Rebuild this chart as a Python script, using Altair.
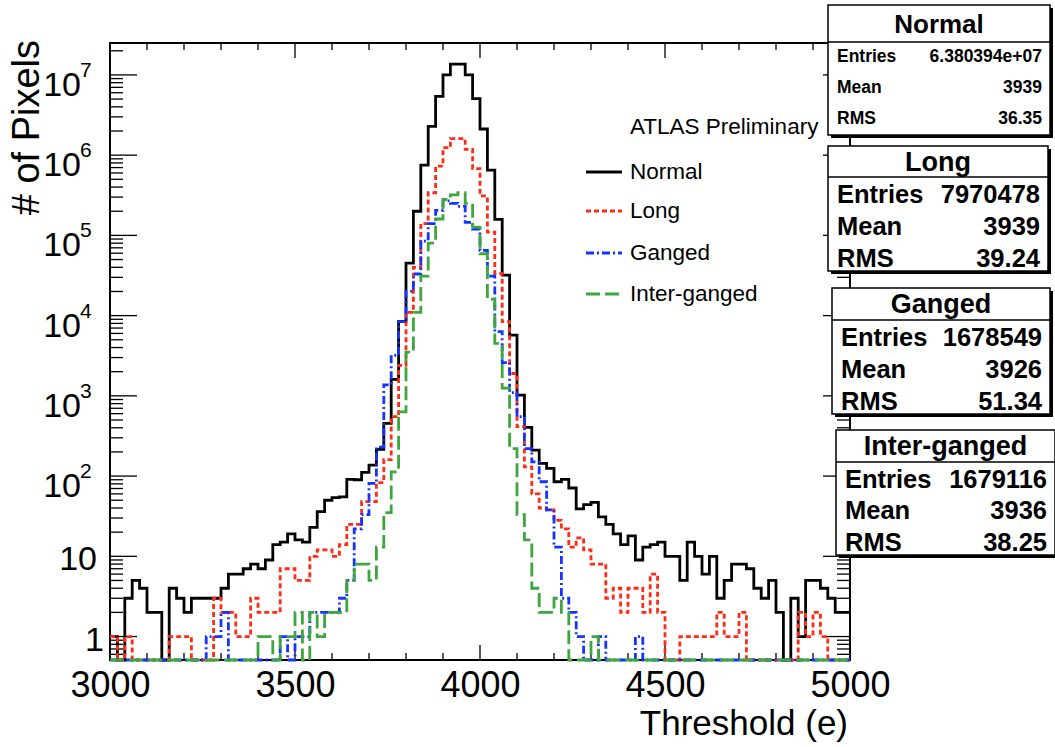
import altair as alt
import pandas as pd

# ---------------- data ----------------
x_min, x_max, bin_w = 3000, 5000, 20

normal = [1, 0, 3, 5, 4, 2, 2, 0, 4, 3,
          2, 3, 3, 3, 3, 4, 6, 6, 7, 8,
          7, 9, 14, 15, 19, 16, 15, 23, 36, 50,
          54, 55, 91, 90, 111, 137, 215, 454, 1600, 8500,
          45000, 200000, 750000, 2290000, 5400000, 10000000, 13600000, 13600000, 10000000, 5070000,
          2120000, 650000, 158000, 32000, 5700, 1020, 405, 211, 144, 125,
          85, 91, 71, 39, 44, 47, 31, 25, 19, 14,
          18, 9, 13, 14, 15, 10, 10, 5, 15, 10,
          6, 10, 3, 5, 8, 8, 7, 4, 3, 5,
          2, 0, 3, 1, 5, 5, 4, 3, 2, 2]

long_ = [1, 0, 1, 0, 0, 0, 0, 0, 1, 1,
         1, 0, 0, 0, 3, 2, 2, 1, 1, 3,
         2, 2, 2, 7, 7, 5, 5, 10, 12, 12,
         10, 14, 25, 25, 48, 48, 83, 160, 550, 2400,
         11000, 40000, 140000, 340000, 730000, 1240000, 1610000, 1610000, 1180000, 680000,
         310000, 110000, 33500, 8400, 1900, 413, 130, 60, 40, 38,
         28, 22, 13, 17, 12, 8, 8, 3, 4, 2,
         4, 4, 2, 6, 2, 0, 0, 1, 1, 1,
         1, 1, 2, 1, 1, 2, 0, 0, 0, 0,
         0, 0, 0, 2, 1, 2, 1, 0, 0, 0]

ganged = [0, 0, 0, 0, 0, 0, 0, 0, 0, 0,
          0, 0, 0, 1, 1, 2, 0, 0, 0, 0,
          0, 0, 0, 1, 0, 1, 1, 2, 2, 2,
          2, 3, 5, 22, 33, 81, 230, 1370, 3200, 8400,
          20000, 33000, 85000, 140000, 205000, 270000, 250000, 230000, 145000, 120000,
          65000, 31000, 6300, 2600, 1100, 550, 220, 150, 85, 38,
          13, 3, 2, 1, 0, 0, 1, 0, 0, 0,
          0, 1, 0, 0, 0, 0, 0, 0, 0, 0,
          0, 0, 0, 0, 0, 0, 0, 0, 0, 0,
          0, 0, 0, 0, 0, 0, 0, 0, 0, 0]

inter = [0, 0, 0, 0, 0, 0, 0, 0, 0, 0,
         0, 0, 0, 0, 0, 0, 0, 0, 0, 0,
         1, 1, 0, 1, 1, 2, 0, 2, 1, 2,
         2, 2, 5, 8, 8, 5, 13, 35, 113, 630,
         3500, 11000, 31000, 80000, 160000, 280000, 320000, 340000, 250000, 127000,
         59000, 16000, 4500, 1250, 220, 33, 16, 4, 2, 2,
         3, 2, 0, 0, 0, 1, 0, 0, 0, 0,
         0, 0, 0, 0, 0, 0, 0, 0, 0, 0,
         0, 0, 0, 0, 0, 0, 0, 0, 0, 0,
         0, 0, 0, 0, 0, 0, 0, 0, 0, 0]

series_names = ["Normal", "Long", "Ganged", "Inter-ganged"]
stat_entries = ["6.380394e+07", "7970478", "1678549", "1679116"]
stat_mean = ["3939", "3939", "3926", "3936"]
stat_rms = ["36.35", "39.24", "51.34", "38.25"]
x_tick_labels = [3000, 3500, 4000, 4500, 5000]
y_decades = [1, 10, 100, 1000, 10000, 100000, 1000000, 10000000]

# ---------------- layout ----------------
W, H = 740, 617
Y_MIN, Y_MAX = 0.51, 2.5e7
FONT = "Liberation Sans"

xscale = alt.Scale(domain=[x_min, x_max], nice=False, zero=False)
yscale = alt.Scale(type="log", domain=[Y_MIN, Y_MAX], nice=False)
xaxis = alt.Axis(values=x_tick_labels, ticks=False, domain=False, grid=False,
                 labelFontSize=36, labelFont=FONT, labelColor="black",
                 labelPadding=8, labelFlush=False, labelOverlap=False,
                 format="d", title=None)
X_ENC = alt.X("x:Q", scale=xscale, axis=xaxis)
Y_ENC = alt.Y("y:Q", scale=yscale, axis=None)


def hist_frame(vals):
    edges = [x_min + i * bin_w for i in range(len(vals))] + [x_max]
    ys = list(vals) + [vals[-1]]
    df = pd.DataFrame({"x": edges, "y": ys})
    df["y"] = df["y"].clip(lower=Y_MIN)
    return df


one = alt.Data(values=[{}])
layers = []

# tick marks (inside the frame)
xt = pd.DataFrame({"x": list(range(x_min, x_max + 1, 100))})
xt["major"] = xt["x"] % 500 == 0
for major, L in [(True, 15), (False, 7)]:
    d = xt[xt["major"] == major]
    layers.append(alt.Chart(d).mark_rule(color="black", strokeWidth=1.3)
                  .encode(x=X_ENC, y=alt.value(H), y2=alt.value(H - L)))
    layers.append(alt.Chart(d).mark_rule(color="black", strokeWidth=1.3)
                  .encode(x=X_ENC, y=alt.value(0), y2=alt.value(L)))

yt_vals = []
for dec in [0.1] + y_decades:
    for k in range(1, 10):
        v = round(k * dec, 6)
        if Y_MIN <= v <= Y_MAX:
            yt_vals.append((v, k == 1))
yt = pd.DataFrame(yt_vals, columns=["y", "major"])
for major, L in [(True, 27), (False, 13)]:
    d = yt[yt["major"] == major]
    layers.append(alt.Chart(d).mark_rule(color="black", strokeWidth=1.3)
                  .encode(y=Y_ENC, x=alt.value(0), x2=alt.value(L)))
    layers.append(alt.Chart(d).mark_rule(color="black", strokeWidth=1.3)
                  .encode(y=Y_ENC, x=alt.value(W), x2=alt.value(W - L)))

# histograms
styles = [
    (normal, "#000000", None),
    (long_, "#ff2b14", [5, 3]),
    (ganged, "#1433ff", [8, 3, 2, 3]),
    (inter, "#3da63d", [14, 5]),
]
for vals, col, dash in styles:
    kw = dict(interpolate="step-after", color=col, strokeWidth=2.8, strokeJoin="miter", strokeCap="butt")
    if dash:
        kw["strokeDash"] = dash
    layers.append(alt.Chart(hist_frame(vals)).mark_line(**kw).encode(x=X_ENC, y=Y_ENC))

# y labels
layers.append(alt.Chart(pd.DataFrame({"y": [1], "t": ["1"]}))
              .mark_text(font=FONT, fontSize=34, align="right", baseline="middle", dy=4)
              .encode(y=Y_ENC, x=alt.value(-6), text="t:N"))
layers.append(alt.Chart(pd.DataFrame({"y": [10], "t": ["10"]}))
              .mark_text(font=FONT, fontSize=34, align="right", baseline="middle", dy=4)
              .encode(y=Y_ENC, x=alt.value(-13), text="t:N"))
expo = pd.DataFrame({"y": y_decades[2:], "e": [str(i) for i in range(2, 8)]})
layers.append(alt.Chart(expo).mark_text(font=FONT, fontSize=34, align="right", baseline="middle", dy=11,
                                        text="10")
              .encode(y=Y_ENC, x=alt.value(-29)))
layers.append(alt.Chart(expo).mark_text(font=FONT, fontSize=21, align="left", baseline="middle", dy=-4)
              .encode(y=Y_ENC, x=alt.value(-30), text="e:N"))

# axis titles
layers.append(alt.Chart(one).mark_text(text="Threshold (e)", font=FONT, fontSize=35, align="right",
                                       baseline="alphabetic")
              .encode(x=alt.value(738), y=alt.value(692)))
layers.append(alt.Chart(one).mark_text(text="# of Pixels", font=FONT, fontSize=38, align="right",
                                       baseline="middle", angle=270)
              .encode(x=alt.value(-82), y=alt.value(-3)))

# legend
layers.append(alt.Chart(one).mark_text(text="ATLAS Preliminary", font=FONT, fontSize=22.5, align="left",
                                       baseline="middle")
              .encode(x=alt.value(520), y=alt.value(84)))
leg_y = [129, 168, 210, 251]
for (vals, col, dash), name, ly in zip(styles, series_names, leg_y):
    kw = dict(color=col, strokeWidth=2.8)
    if dash:
        kw["strokeDash"] = dash
    layers.append(alt.Chart(one).mark_rule(**kw)
                  .encode(x=alt.value(476), x2=alt.value(512), y=alt.value(ly)))
    layers.append(alt.Chart(one).mark_text(text=name, font=FONT, fontSize=22.5, align="left", baseline="middle")
                  .encode(x=alt.value(520), y=alt.value(ly)))

# stat boxes
boxes = [  # x0, x1, y0, ysep, y1, title size, row size, row ys
    (718, 940, -38, -1, 92, 26, 17.5, [14, 45, 76]),
    (718, 938, 103, 134, 228, 27, 25.5, [152, 184, 216]),
    (722, 940, 245, 277, 371, 27, 25.5, [295, 327, 359]),
    (726, 945, 387, 419, 512, 27, 25.5, [437, 468, 500]),
]
for i, (x0, x1, y0, ys, y1, tfs, rfs, rows) in enumerate(boxes):
    layers.append(alt.Chart(one).mark_rect(color="black")
                  .encode(x=alt.value(x0 + 3), x2=alt.value(x1 + 3), y=alt.value(y0 + 3), y2=alt.value(y1 + 3)))
    layers.append(alt.Chart(one).mark_rect(fill="white", stroke="black", strokeWidth=1.5)
                  .encode(x=alt.value(x0), x2=alt.value(x1), y=alt.value(y0), y2=alt.value(y1)))
    layers.append(alt.Chart(one).mark_rule(color="black", strokeWidth=1.5)
                  .encode(x=alt.value(x0), x2=alt.value(x1), y=alt.value(ys)))
    layers.append(alt.Chart(one).mark_text(text=series_names[i], font=FONT, fontSize=tfs, fontWeight="bold",
                                           align="center", baseline="middle")
                  .encode(x=alt.value((x0 + x1) / 2), y=alt.value((y0 + ys) / 2 + 1)))
    for lab, val, ry in zip(["Entries", "Mean", "RMS"], [stat_entries[i], stat_mean[i], stat_rms[i]], rows):
        layers.append(alt.Chart(one).mark_text(text=lab, font=FONT, fontSize=rfs, fontWeight="bold",
                                               align="left", baseline="middle")
                      .encode(x=alt.value(x0 + 9), y=alt.value(ry)))
        layers.append(alt.Chart(one).mark_text(text=val, font=FONT, fontSize=rfs, fontWeight="bold",
                                               align="right", baseline="middle")
                      .encode(x=alt.value(x1 - 8), y=alt.value(ry)))

chart = (alt.layer(*layers)
         .properties(width=W, height=H,
                     autosize=alt.AutoSizeParams(type="none"),
                     padding={"left": 110, "top": 43, "right": 205, "bottom": 87},
                     background="white")
         .configure_view(stroke="black", strokeWidth=2))

chart.save("out.html", embed_options={"renderer": "svg", "actions": False})
